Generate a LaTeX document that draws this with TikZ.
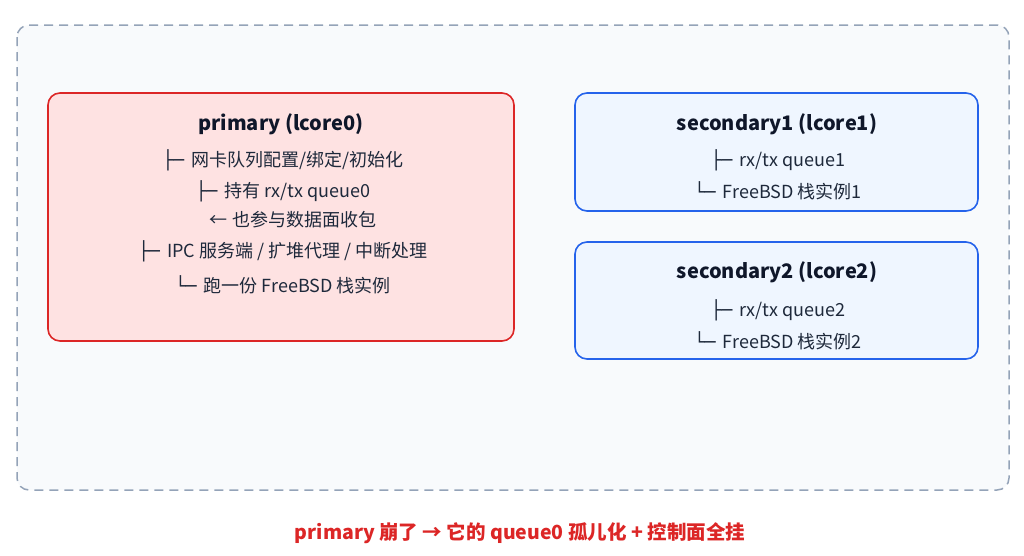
\documentclass[tikz,border=0pt]{standalone}
\usepackage{fontspec}
\setmainfont{Noto Sans CJK SC}
\newfontfamily\boxfont{DejaVu Sans}
\newcommand{\treeT}{{\boxfont ├─}\hspace{0.4em}}
\newcommand{\treeL}{{\boxfont └─}\hspace{0.4em}}
\begin{document}
\begin{tikzpicture}[x=1pt,y=-1pt,
  panel/.style={dashed, dash pattern=on 9pt off 6pt, line width=1.5pt, fill=bgcol, rounded corners=12pt},
  redbox/.style={draw=redc, line width=1.6pt, fill=redfill, rounded corners=12pt},
  bluebox/.style={draw=bluec, line width=1.6pt, fill=bluefill, rounded corners=12pt},
  ttl/.style={font=\fontsize{20}{23}\selectfont\bfseries, text=titlec, inner sep=0pt},
  ln/.style={font=\fontsize{18}{21}\selectfont, text=textc, inner sep=0pt},
  note/.style={font=\fontsize{19.5}{22}\selectfont\bfseries, text=redc, inner sep=0pt}]
\definecolor{bgcol}{HTML}{F8FAFC}
\definecolor{panelc}{HTML}{94A3B8}
\definecolor{redc}{HTML}{DC2626}
\definecolor{redfill}{HTML}{FEE2E2}
\definecolor{bluec}{HTML}{2563EB}
\definecolor{bluefill}{HTML}{EFF6FF}
\definecolor{titlec}{HTML}{0F172A}
\definecolor{textc}{HTML}{1E293B}
\useasboundingbox (0,0) rectangle (1024,555);
\fill[white] (0,0) rectangle (1024,555);
\draw[panel, draw=panelc] (17,25) rectangle (1009,490);
\draw[redbox] (48,93) rectangle (514,341);
\draw[bluebox] (575,93) rectangle (978,211);
\draw[bluebox] (575,242) rectangle (978,359);
% primary
\node[ttl] (pt) at (281,124) {primary (lcore0)};
\node[ln] (p1) at (283,160) {\treeT{}网卡队列配置/绑定/初始化};
\node[ln] (p2) at (283,191) {\treeT{}持有 rx/tx queue0};
\node[ln] (p3) at (293,220) {← 也参与数据面收包};
\node[ln] (p4) at (283,251) {\treeT{}IPC 服务端 / 扩堆代理 / 中断处理};
\node[ln] (p5) at (283,285) {\treeL{}跑一份 FreeBSD 栈实例};
% secondary1
\node[ttl] (s1t) at (777,124) {secondary1 (lcore1)};
\node[ln] (s11) at (778,160) {\treeT{}rx/tx queue1};
\node[ln] (s12) at (778,191) {\treeL{}FreeBSD 栈实例1};
% secondary2
\node[ttl] (s2t) at (777,272) {secondary2 (lcore2)};
\node[ln] (s21) at (778,310) {\treeT{}rx/tx queue2};
\node[ln] (s22) at (778,341) {\treeL{}FreeBSD 栈实例2};
% note
\node[note] (nt) at (520,533) {primary 崩了 → 它的 queue0 孤儿化 + 控制面全挂};
\end{tikzpicture}
\end{document}
